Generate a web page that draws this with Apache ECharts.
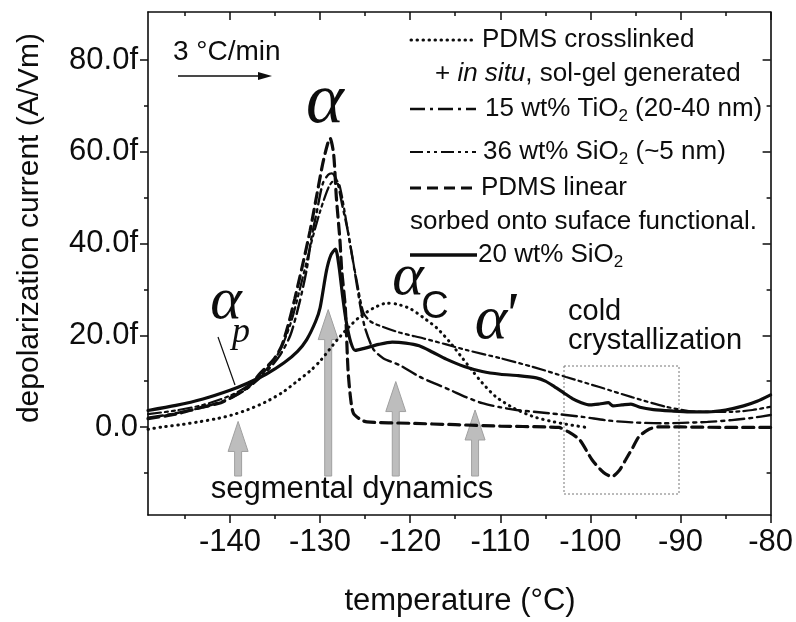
<!DOCTYPE html>
<html>
<head>
<meta charset="utf-8">
<script src="https://cdn.jsdelivr.net/npm/echarts@6/dist/echarts.min.js"></script>
<style>
  html, body { margin: 0; padding: 0; background: #fff; }
  #chart { width: 796px; height: 622px; }
</style>
</head>
<body>
<div id="chart"></div>
<script>
// [temperature (°C), depolarization current (fA/Vm)]
var crosslinked = [
  [-149.1, -0.5], [-147.5, 0.0], [-145.5, 0.5], [-143.5, 1.1], [-141.5, 1.8], [-139.8, 2.6],
  [-138, 3.8], [-136.1, 5.4], [-134.2, 7.5], [-132.4, 10.2], [-131, 12.4], [-129.9, 14.6],
  [-128.1, 19], [-126.8, 21.8], [-125.6, 24], [-124, 26], [-122.6, 27], [-121.5, 26.8],
  [-120, 25.8], [-118.5, 23.8], [-117, 21.5], [-115.6, 18.5], [-114.2, 15], [-113, 12],
  [-112, 9.6], [-110.5, 6.6], [-108.5, 4.1], [-106.4, 2.3], [-104.5, 1.3], [-102.7, 0.6], [-100.1, -0.2]
];
var titania15 = [
  [-149.1, 2.0], [-146, 3.0], [-143, 4.3], [-140, 6.2], [-138, 8.5], [-136, 12], [-134.5, 15.5],
  [-133.3, 20], [-132.3, 27], [-131.5, 34.2], [-131, 40.8], [-130.4, 46.6], [-129.7, 53.1],
  [-129.1, 55], [-128.7, 55.3], [-128.1, 53.5], [-127.5, 48], [-127, 43.5], [-126.5, 38],
  [-126, 32], [-125.5, 26], [-125, 21.5], [-124.1, 17], [-123, 15], [-121.2, 13.5], [-119, 11],
  [-117.3, 9.5], [-115.6, 8.1], [-113.8, 6.5], [-112, 5.2], [-110, 4.3], [-108.2, 3.7],
  [-104.6, 3.0], [-100.9, 2.2], [-98, 1.4], [-95.4, 1.0], [-92, 0.8], [-89.8, 0.9],
  [-87, 1.1], [-84.3, 1.5], [-82, 2.0], [-80, 2.6]
];
var silica36 = [
  [-149.1, 2.8], [-146, 3.6], [-143, 4.8], [-140, 6.8], [-138, 9], [-136, 12.5], [-134.5, 16.5],
  [-133.2, 23], [-132, 32], [-131, 40], [-130, 47], [-129, 52.5], [-128.3, 54], [-127.8, 52.4],
  [-127, 43.7], [-126.5, 37.9], [-125.9, 31.5], [-125.2, 25], [-124.4, 23], [-123, 21.8],
  [-121.2, 20.6], [-118.5, 19.3], [-116, 18], [-113.8, 16.8], [-110, 15], [-106.4, 13.1],
  [-102.7, 10.9], [-99, 8.7], [-95.4, 6.5], [-91.6, 4.4], [-88, 3.3], [-84.3, 3.3], [-82, 3.7], [-80, 4.4]
];
var linear = [
  [-149.1, 1.8], [-146, 2.8], [-143.5, 4.1], [-141, 5.3], [-139.8, 6.5], [-138, 8.7],
  [-136.6, 11.8], [-135.2, 14.6], [-134.3, 17.5], [-133.6, 21.8], [-132.8, 28], [-131.9, 35.7],
  [-131.1, 42.9], [-130.4, 50.2], [-129.7, 57.5], [-129.2, 61.5], [-128.9, 63], [-128.5, 59.6],
  [-128.2, 50.2], [-127.8, 40.8], [-127.6, 34.2], [-127.2, 26], [-126.9, 12.4], [-126.6, 6],
  [-126.3, 3], [-125.5, 1.6], [-124.8, 1.1], [-120, 0.8], [-115, 0.5], [-110, 0.2], [-105, 0.0],
  [-103.5, -0.1], [-102.5, -1.0], [-101.2, -2.8], [-99.8, -7.2], [-98.5, -10], [-97.6, -10.8],
  [-96.8, -9.5], [-96.1, -7.2], [-95.3, -4.5], [-94.6, -2.1], [-93.5, -0.5], [-92.5, 0],
  [-90, 0], [-85, -0.1], [-80, -0.1]
];
var silica20 = [
  [-149.1, 3.6], [-146, 4.7], [-143, 6.1], [-140, 8.0], [-138, 9.6], [-136, 11.5], [-134, 14.0],
  [-132.5, 16.5], [-131.5, 19], [-130.5, 23], [-130, 26], [-129.3, 34], [-128.8, 37.5],
  [-128.3, 38.8], [-127.9, 35], [-127.5, 28.5], [-127.1, 23], [-126.6, 18.5], [-126.1, 16.7],
  [-125, 17.2], [-123.5, 18], [-122, 18.5], [-120.5, 18.3], [-119, 17.7], [-117.5, 16.3],
  [-116, 14.8], [-114, 13.2], [-112, 12.1], [-110, 11.5], [-108, 11.2], [-106, 10.7], [-105, 10.0],
  [-104, 8.8], [-103, 7.5], [-102, 6.2], [-101, 5.3], [-100, 4.8], [-99, 5.0], [-98, 5.3],
  [-97.5, 4.6], [-96.5, 4.8], [-95.5, 5.0], [-94.5, 4.3], [-93, 3.8], [-91, 3.5], [-89, 3.3],
  [-87, 3.3], [-85, 3.7], [-83, 4.6], [-81.5, 5.6], [-80, 7.0]
];

// gray "segmental dynamics" arrows
var arrowTemps = [-139.1, -129.1, -121.6, -112.8];
var arrowTips = [1.2, 25.6, 9.9, 3.7];
var arrowBase = -10.7;

// ticks
var xMajor = [-140, -130, -120, -110, -100, -90, -80];
var xMinor = [-145, -135, -125, -115, -105, -95, -85];
var yMajor = [0, 20, 40, 60, 80];
var yMinor = [-10, 10, 30, 50, 70];
var yLabels = ['0.0', '20.0f', '40.0f', '60.0f', '80.0f'];

var X_MIN = -149.1, X_MAX = -80, Y_MIN = -19.2, Y_MAX = 90.5;
var INK = '#0d0d0d';
var SANS = '"Liberation Sans", Arial, sans-serif';
var SERIF = '"Liberation Serif", "Times New Roman", serif';

var DOT = [0.5, 5.5];
var DASH_DOT = [15, 5, 3, 5];
var DASH_DOT_DOT = [13, 4, 3, 4, 3, 4];
var DASH = [11, 6];

function xAxisDef(position, ticks, len, inside, line, labels) {
  return {
    type: 'value', position: position, min: X_MIN, max: X_MAX,
    axisLine: { show: line, onZero: false, lineStyle: { color: INK, width: 1.6 } },
    axisTick: { show: true, inside: inside, length: len, customValues: ticks, lineStyle: { color: INK, width: 1.5 } },
    axisLabel: labels ? { show: true, customValues: ticks, color: INK, fontSize: 31, fontFamily: SANS, margin: 12 } : { show: false },
    splitLine: { show: false }
  };
}
function yAxisDef(position, ticks, len, inside, line, labels) {
  return {
    type: 'value', position: position, min: Y_MIN, max: Y_MAX,
    axisLine: { show: line, onZero: false, lineStyle: { color: INK, width: 1.6 } },
    axisTick: { show: true, inside: inside, length: len, customValues: ticks, lineStyle: { color: INK, width: 1.5 } },
    axisLabel: labels ? {
      show: true, customValues: ticks, color: INK, fontSize: 31, fontFamily: SANS, margin: 10,
      formatter: function (v) { var i = yMajor.indexOf(v); return i < 0 ? '' : yLabels[i]; }
    } : { show: false },
    splitLine: { show: false }
  };
}

function curve(name, data, width, type) {
  return {
    name: name, type: 'line', data: data, symbol: 'none', smooth: 0.25, z: 3,
    lineStyle: { color: INK, width: width, type: type, cap: 'round' }
  };
}

function txt(x, y, text, font, align) {
  return {
    type: 'text', x: x, y: y, z: 10,
    style: { text: text, font: font, fill: INK, align: align || 'left', verticalAlign: 'middle' }
  };
}
function seg(x1, y1, x2, y2, width, dash) {
  return {
    type: 'line', z: 10,
    shape: { x1: x1, y1: y1, x2: x2, y2: y2 },
    style: { stroke: INK, lineWidth: width, lineDash: dash || null, lineCap: dash && dash[0] < 1 ? 'round' : 'butt' }
  };
}

var rich = {
  n: { fontSize: 26, fontFamily: SANS, lineHeight: 32, fill: INK },
  i: { fontSize: 26, fontFamily: SANS, fontStyle: 'italic', lineHeight: 32, fill: INK },
  s: { fontSize: 17, fontFamily: SANS, lineHeight: 10, verticalAlign: 'bottom', fill: INK }
};
function richTxt(x, y, text) {
  return { type: 'text', x: x, y: y, z: 10,
    style: { text: text, rich: rich, align: 'left', verticalAlign: 'middle' } };
}

var graphics = [
  // legend
  seg(411, 40, 475, 40, 3, DOT),
  richTxt(482, 40, '{n|PDMS crosslinked}'),
  richTxt(435, 74, '{n|+ }{i|in situ}{n|, sol-gel generated}'),
  seg(410, 109, 476, 109, 2.4, DASH_DOT),
  richTxt(485, 109, '{n|15 wt% TiO}{s|2}{n| (20-40 nm)}'),
  seg(410, 152, 476, 152, 2.2, DASH_DOT_DOT),
  richTxt(483, 152, '{n|36 wt% SiO}{s|2}{n| (~5 nm)}'),
  seg(410, 188, 477, 188, 3.2, DASH),
  richTxt(481, 188, '{n|PDMS linear}'),
  richTxt(410, 222, '{n|sorbed onto suface functional.}'),
  seg(410, 255, 477, 255, 3.5),
  richTxt(478, 255, '{n|20 wt% SiO}{s|2}'),
  // heating rate
  txt(173, 52, '3 °C/min', '28px ' + SANS),
  seg(178, 76, 262, 76, 1.5),
  { type: 'polygon', z: 10, shape: { points: [[258, 72], [272, 76], [258, 80]] }, style: { fill: INK } },
  // relaxation labels
  txt(325, 103, 'α', 'italic 72px ' + SERIF, 'center'),
  txt(226, 302, 'α', 'italic 60px ' + SERIF, 'center'),
  txt(241, 333, 'p', 'italic 36px ' + SERIF, 'center'),
  seg(218, 337, 235, 385, 1.2),
  txt(408, 278, 'α', 'italic 60px ' + SERIF, 'center'),
  txt(435, 308, 'C', '38px ' + SANS, 'center'),
  txt(491, 322, 'α', 'italic 62px ' + SERIF, 'center'),
  txt(503, 318, '\'', 'italic 62px ' + SERIF, 'left'),
  txt(568, 312, 'cold', '29px ' + SANS),
  txt(568, 341, 'crystallization', '29px ' + SANS),
  { type: 'rect', z: 2, shape: { x: 564, y: 366, width: 115, height: 128 },
    style: { fill: null, stroke: '#777', lineWidth: 1, lineDash: [2, 2] } },
  txt(352, 489, 'segmental dynamics', '31px ' + SANS, 'center'),
  // axis titles
  txt(460, 601, 'temperature (°C)', '31px ' + SANS, 'center'),
  { type: 'text', x: 30, y: 228, rotation: Math.PI / 2, z: 10,
    style: { text: 'depolarization current (A/Vm)', font: '30px ' + SANS, fill: INK, align: 'center', verticalAlign: 'middle' } }
];

var chart = echarts.init(document.getElementById('chart'));
chart.setOption({
  animation: false,
  backgroundColor: '#fff',
  grid: { left: 148, right: 24, top: 12, bottom: 107 },
  xAxis: [
    xAxisDef('bottom', xMajor, 8, false, true, true),
    xAxisDef('bottom', xMinor, 4, false, false, false),
    xAxisDef('top', xMajor, 8, true, true, false),
    xAxisDef('top', xMinor, 4, true, false, false)
  ],
  yAxis: [
    yAxisDef('left', yMajor, 8, false, true, true),
    yAxisDef('left', yMinor, 4, false, false, false),
    yAxisDef('right', yMajor, 8, true, true, false),
    yAxisDef('right', yMinor, 4, true, false, false)
  ],
  series: [
    {
      type: 'custom', z: 1,
      data: arrowTemps.map(function (t, i) { return [t, arrowBase, arrowTips[i]]; }),
      encode: { x: 0, y: [1, 2] },
      renderItem: function (params, api) {
        var b = api.coord([api.value(0), api.value(1)]);
        var t = api.coord([api.value(0), api.value(2)]);
        var x = b[0], hw = 3.5, hh = 10, hl = 30;
        return {
          type: 'polygon',
          shape: { points: [[x - hw, b[1]], [x - hw, t[1] + hl], [x - hh, t[1] + hl], [x, t[1]],
            [x + hh, t[1] + hl], [x + hw, t[1] + hl], [x + hw, b[1]]] },
          style: { fill: '#bdbdbd', stroke: '#a0a0a0', lineWidth: 1 }
        };
      }
    },
    curve('PDMS crosslinked', crosslinked, 3, DOT),
    curve('15 wt% TiO2', titania15, 2.4, DASH_DOT),
    curve('36 wt% SiO2', silica36, 2.2, DASH_DOT_DOT),
    curve('PDMS linear', linear, 3.2, DASH),
    curve('20 wt% SiO2', silica20, 3.2, 'solid')
  ],
  graphic: graphics
});
</script>
</body>
</html>
